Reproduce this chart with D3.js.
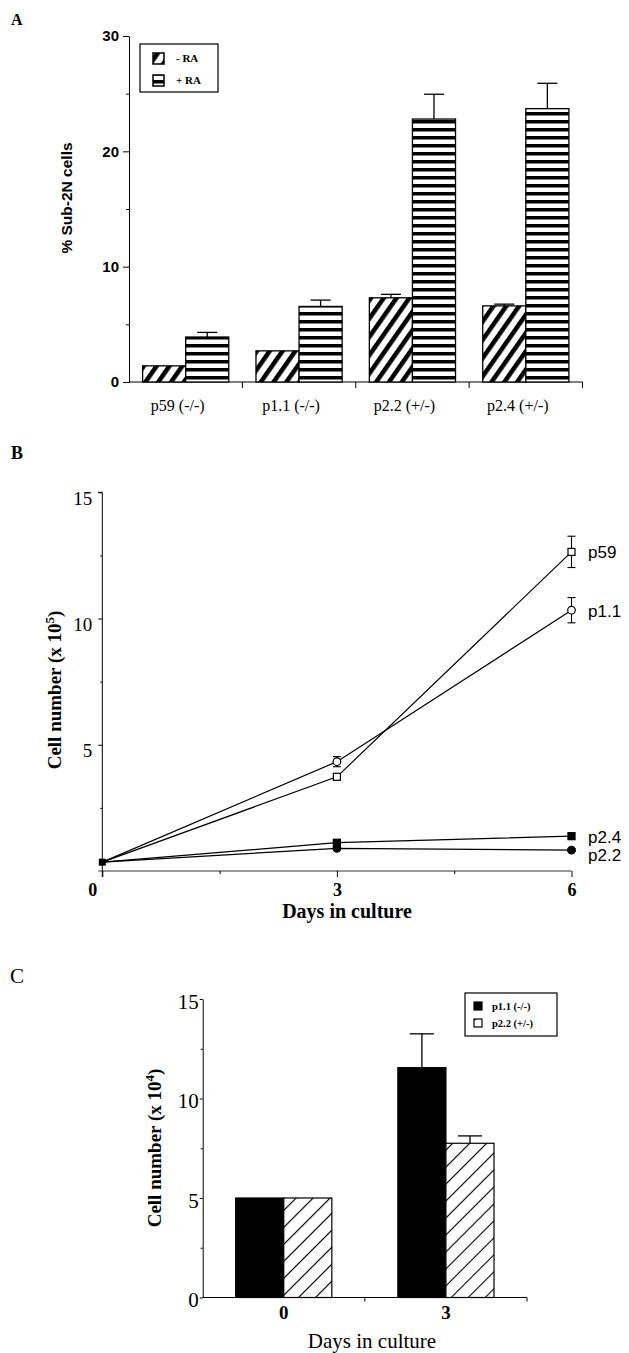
<!DOCTYPE html>
<html>
<head>
<meta charset="utf-8">
<script src="https://cdn.jsdelivr.net/npm/d3@7"></script>
<style>
  body { margin: 0; background: #fff; }
  svg { display: block; }
</style>
</head>
<body>
<svg id="fig" width="629" height="1353"></svg>
<script>
// ---- panel A : % sub-2N cells ----
const groupsA = ['p59 (-/-)', 'p1.1 (-/-)', 'p2.2 (+/-)', 'p2.4 (+/-)'];
const minusRA = [1.4, 2.7, 7.3, 6.6];
const minusRAErr = [0, 0, 0.3, 0.15];
const plusRA = [3.9, 6.55, 22.8, 23.7];
const plusRAErr = [0.4, 0.55, 2.15, 2.2];
const ticksA = [0, 10, 20, 30];
const minorA = [5, 15, 25];

// ---- panel B : growth curves ----
const daysB = [0, 3, 6];
const p59 = [0.35, 3.73, 12.64];
const p59Err = [0, 0.1, 0.62];
const p11 = [0.35, 4.33, 10.33];
const p11Err = [0, 0.2, 0.5];
const p24 = [0.35, 1.12, 1.38];
const p24Err = [0, 0.08, 0.1];
const p22 = [0.35, 0.9, 0.83];
const p22Err = [0, 0.05, 0.05];
const ticksB = [0, 5, 10, 15];
const minorB = [2.5, 7.5, 12.5];

// ---- panel C : cell number ----
const daysC = ['0', '3'];
const p11C = [5.0, 11.55];
const p11CErr = [0, 1.7];
const p22C = [5.0, 7.75];
const p22CErr = [0, 0.37];
const ticksC = [0, 5, 10, 15];
const minorC = [2.5, 7.5, 12.5];

const serif = '"Liberation Serif", "Times New Roman", serif';
const sans = '"Liberation Sans", Arial, Helvetica, sans-serif';

const svg = d3.select('#fig');
svg.append('rect').attr('width', 629).attr('height', 1353).attr('fill', '#fff');

const defs = svg.append('defs');

function stripes (id, size, bar, angle, bg) {
    const p = defs.append('pattern')
        .attr('id', id)
        .attr('patternUnits', 'userSpaceOnUse')
        .attr('width', size)
        .attr('height', size)
        .attr('patternTransform', `rotate(${angle})`);
    p.append('rect').attr('width', size).attr('height', size).attr('fill', bg);
    p.append('rect').attr('width', bar).attr('height', size).attr('fill', '#000');
}
stripes('diagA', 10.5, 4.5, 35, '#fff');      // thick "/" hatching
stripes('horizA', 8, 3.5, 90, '#fff');        // horizontal bands
stripes('diagC', 12, 1.1, 45, '#fff');        // thin "/" hatching

// ================= PANEL A =================
const gA = svg.append('g');
const xA = d3.scaleBand().domain(groupsA).range([129, 582.5]).paddingInner(0.24).paddingOuter(0.12);
const subA = d3.scaleBand().domain(['minus', 'plus']).range([0, xA.bandwidth()]);
const yA = d3.scaleLinear().domain([0, 30]).range([382, 36]);

gA.append('text').text('A').attr('x', 11).attr('y', 25)
    .attr('font-family', serif).attr('font-weight', 'bold').attr('font-size', 16);

// y axis
const axA = gA.append('g').attr('transform', 'translate(129,0)')
    .call(d3.axisLeft(yA).tickValues(ticksA).tickSize(6).tickSizeOuter(0).tickPadding(4));
axA.selectAll('text').attr('font-family', sans).attr('font-weight', 'bold').attr('font-size', 15).attr('fill', '#000');
gA.append('g').attr('transform', 'translate(129,0)')
    .call(d3.axisLeft(yA).tickValues(minorA).tickSize(3).tickFormat(''))
    .select('.domain').remove();

// x axis line + boundary ticks
gA.append('line').attr('x1', 129).attr('x2', 582.5).attr('y1', yA(0)).attr('y2', yA(0))
    .attr('stroke', '#000').attr('stroke-width', 1.2);
groupsA.forEach((g, i) => {
    const bx = xA(g) - xA.step() * 0.12 + xA.step();
    gA.append('line').attr('x1', bx).attr('x2', bx).attr('y1', yA(0)).attr('y2', yA(0) + 6)
        .attr('stroke', '#000');
    gA.append('text').text(g)
        .attr('x', xA(g) + xA.bandwidth() / 2 - 8).attr('y', 411)
        .attr('text-anchor', 'middle').attr('font-family', serif).attr('font-size', 16);
});

// bars
function barsA (vals, errs, key, fill) {
    vals.forEach((v, i) => {
        const x0 = xA(groupsA[i]) + subA(key);
        const w = subA.bandwidth();
        gA.append('rect').attr('x', x0).attr('y', yA(v)).attr('width', w).attr('height', yA(0) - yA(v))
            .attr('fill', `url(#${fill})`).attr('stroke', '#000').attr('stroke-width', 1.3);
        if (errs[i] > 0) {
            const cx = x0 + w / 2;
            gA.append('line').attr('x1', cx).attr('x2', cx).attr('y1', yA(v)).attr('y2', yA(v + errs[i]))
                .attr('stroke', '#000').attr('stroke-width', 1.3);
            gA.append('line').attr('x1', cx - 10).attr('x2', cx + 10).attr('y1', yA(v + errs[i])).attr('y2', yA(v + errs[i]))
                .attr('stroke', '#000').attr('stroke-width', 1.3);
        }
    });
}
barsA(minusRA, minusRAErr, 'minus', 'diagA');
barsA(plusRA, plusRAErr, 'plus', 'horizA');

gA.append('text').text('% Sub-2N cells')
    .attr('transform', 'translate(72,198) rotate(-90)')
    .attr('text-anchor', 'middle').attr('font-family', sans).attr('font-weight', 'bold').attr('font-size', 15.5);

// legend A
gA.append('rect').attr('x', 140).attr('y', 44).attr('width', 78).attr('height', 48)
    .attr('fill', '#fff').attr('stroke', '#000').attr('stroke-width', 1.2);
[['- RA', 'diagA', 53], ['+ RA', 'horizA', 75]].forEach(([t, f, y]) => {
    gA.append('rect').attr('x', 153).attr('y', y).attr('width', 11).attr('height', 11)
        .attr('fill', `url(#${f})`).attr('stroke', '#000').attr('stroke-width', 1.5);
    gA.append('text').text(t).attr('x', 176).attr('y', y + 8.5)
        .attr('font-family', serif).attr('font-weight', 'bold').attr('font-size', 11);
});

// ================= PANEL B =================
const gB = svg.append('g');
const xB = d3.scaleLinear().domain([0, 6]).range([102.3, 571.5]);
const yB = d3.scaleLinear().domain([0, 15]).range([871, 492.3]);

gB.append('text').text('B').attr('x', 11).attr('y', 459)
    .attr('font-family', serif).attr('font-weight', 'bold').attr('font-size', 18);

const axB = gB.append('g').attr('transform', `translate(${xB(0)},0)`)
    .call(d3.axisLeft(yB).tickValues(ticksB.filter(d => d > 0)).tickFormat(d3.format('d'))
        .tickSize(4).tickSizeOuter(0).tickPadding(6));
axB.select('.domain').attr('d', `M0,${yB(15)}H-4M0,${yB(15)}V${yB(0) + 6}`);
axB.selectAll('text').attr('font-family', serif).attr('font-size', 19).attr('dy', '0.62em').attr('fill', '#000');
gB.append('g').attr('transform', `translate(${xB(0)},0)`)
    .call(d3.axisLeft(yB).tickValues(minorB).tickSize(2).tickFormat(''))
    .select('.domain').remove();

const axBx = gB.append('g').attr('transform', `translate(0,${yB(0)})`)
    .call(d3.axisBottom(xB).tickValues(daysB).tickFormat(d3.format('d'))
        .tickSize(6).tickSizeOuter(0).tickPadding(6));
axBx.select('.domain').attr('d', `M${xB(0) - 4},0H${xB(6)}`).attr('stroke', '#333');
axBx.selectAll('text').attr('font-family', serif).attr('font-weight', 'bold').attr('font-size', 18).attr('fill', '#000')
    .attr('dx', d => d === 0 ? -10 : 0);
gB.append('g').attr('transform', `translate(0,${yB(0)})`)
    .call(d3.axisBottom(xB).tickValues([1.5, 4.5]).tickSize(3).tickFormat(''))
    .select('.domain').remove();

const line = d3.line().x((d, i) => xB(daysB[i])).y(d => yB(d));
const seriesB = [
    { name: 'p59', vals: p59, err: p59Err, shape: 'square', fill: '#fff', labelY: 558 },
    { name: 'p1.1', vals: p11, err: p11Err, shape: 'circle', fill: '#fff', labelY: 617 },
    { name: 'p2.4', vals: p24, err: p24Err, shape: 'square', fill: '#000', labelY: 843 },
    { name: 'p2.2', vals: p22, err: p22Err, shape: 'circle', fill: '#000', labelY: 861 }
];
seriesB.forEach(s => {
    gB.append('path').attr('d', line(s.vals)).attr('fill', 'none').attr('stroke', '#000').attr('stroke-width', 1.2);
});
seriesB.forEach(s => {
    s.vals.forEach((v, i) => {
        const cx = xB(daysB[i]);
        if (s.err[i] > 0) {
            const y1 = yB(v - s.err[i]), y2 = yB(v + s.err[i]);
            gB.append('line').attr('x1', cx).attr('x2', cx).attr('y1', y1).attr('y2', y2).attr('stroke', '#000').attr('stroke-width', 1.1);
            [y1, y2].forEach(y => gB.append('line').attr('x1', cx - 4).attr('x2', cx + 4).attr('y1', y).attr('y2', y)
                .attr('stroke', '#000').attr('stroke-width', 1.1));
        }
        if (i === 0) return;
        if (s.shape === 'square') {
            gB.append('rect').attr('x', cx - 3.5).attr('y', yB(v) - 3.5).attr('width', 7).attr('height', 7)
                .attr('fill', s.fill).attr('stroke', '#000').attr('stroke-width', 1.2);
        } else {
            gB.append('circle').attr('cx', cx).attr('cy', yB(v)).attr('r', 3.8)
                .attr('fill', s.fill).attr('stroke', '#000').attr('stroke-width', 1.2);
        }
    });
    gB.append('text').text(s.name).attr('x', 588).attr('y', s.labelY)
        .attr('font-family', sans).attr('font-size', 17);
});
// shared start point
gB.append('rect').attr('x', xB(0) - 3.5).attr('y', yB(p59[0]) - 3.5).attr('width', 7).attr('height', 7).attr('fill', '#000');

gB.append('text').text('Days in culture').attr('x', 347).attr('y', 918)
    .attr('text-anchor', 'middle').attr('font-family', serif).attr('font-weight', 'bold').attr('font-size', 20);
const ylB = gB.append('text').attr('transform', 'translate(61,690) rotate(-90)')
    .attr('text-anchor', 'middle').attr('font-family', serif).attr('font-weight', 'bold').attr('font-size', 19);
ylB.append('tspan').text('Cell number (x 10');
ylB.append('tspan').text('5').attr('font-size', 13).attr('dy', -7);
ylB.append('tspan').text(')').attr('dy', 7);

// ================= PANEL C =================
const gC = svg.append('g');
const xC = d3.scaleBand().domain(daysC).range([202.7, 527]).paddingInner(0.407).paddingOuter(0.2035);
const subC = d3.scaleBand().domain(['p11', 'p22']).range([0, xC.bandwidth()]);
const yC = d3.scaleLinear().domain([0, 15]).range([1297.5, 999]);

gC.append('text').text('C').attr('x', 10).attr('y', 983)
    .attr('font-family', serif).attr('font-size', 21);

const axC = gC.append('g').attr('transform', 'translate(202.7,0)')
    .call(d3.axisLeft(yC).tickValues(ticksC).tickSize(3).tickSizeOuter(0).tickPadding(1));
axC.selectAll('text').attr('font-family', serif).attr('font-size', 21).attr('dy', '0.45em').attr('fill', '#000');
gC.append('g').attr('transform', 'translate(202.7,0)')
    .call(d3.axisLeft(yC).tickValues(minorC).tickSize(2).tickFormat(''))
    .select('.domain').remove();

gC.append('line').attr('x1', 202.7).attr('x2', 527).attr('y1', yC(0)).attr('y2', yC(0))
    .attr('stroke', '#000').attr('stroke-width', 1.2);
daysC.forEach(d => {
    const bx = xC(d) + xC.bandwidth() + xC.step() * 0.2035;
    gC.append('line').attr('x1', bx).attr('x2', bx).attr('y1', yC(0)).attr('y2', yC(0) + 4).attr('stroke', '#000');
    gC.append('text').text(d).attr('x', xC(d) + xC.bandwidth() / 2).attr('y', 1319)
        .attr('text-anchor', 'middle').attr('font-family', serif).attr('font-weight', 'bold').attr('font-size', 19);
});

function barsC (vals, errs, key, fill) {
    vals.forEach((v, i) => {
        const x0 = xC(daysC[i]) + subC(key);
        const w = subC.bandwidth();
        gC.append('rect').attr('x', x0).attr('y', yC(v)).attr('width', w).attr('height', yC(0) - yC(v))
            .attr('fill', fill).attr('stroke', '#000').attr('stroke-width', 1.2);
        if (errs[i] > 0) {
            const cx = x0 + w / 2;
            gC.append('line').attr('x1', cx).attr('x2', cx).attr('y1', yC(v)).attr('y2', yC(v + errs[i]))
                .attr('stroke', '#000').attr('stroke-width', 1.3);
            gC.append('line').attr('x1', cx - 12).attr('x2', cx + 12).attr('y1', yC(v + errs[i])).attr('y2', yC(v + errs[i]))
                .attr('stroke', '#000').attr('stroke-width', 1.3);
        }
    });
}
barsC(p11C, p11CErr, 'p11', '#000');
barsC(p22C, p22CErr, 'p22', 'url(#diagC)');

gC.append('text').text('Days in culture').attr('x', 372).attr('y', 1348)
    .attr('text-anchor', 'middle').attr('font-family', serif).attr('font-size', 21);
const ylC = gC.append('text').attr('transform', 'translate(161,1148) rotate(-90)')
    .attr('text-anchor', 'middle').attr('font-family', serif).attr('font-weight', 'bold').attr('font-size', 19);
ylC.append('tspan').text('Cell number (x 10');
ylC.append('tspan').text('4').attr('font-size', 13).attr('dy', -7);
ylC.append('tspan').text(')').attr('dy', 7);

// legend C
gC.append('rect').attr('x', 465).attr('y', 993).attr('width', 92).attr('height', 43)
    .attr('fill', '#fff').attr('stroke', '#000').attr('stroke-width', 1.2);
[['p1.1 (-/-)', '#000', 1002], ['p2.2 (+/-)', 'url(#diagC)', 1019]].forEach(([t, f, y]) => {
    gC.append('rect').attr('x', 474).attr('y', y).attr('width', 8).attr('height', 8)
        .attr('fill', f).attr('stroke', '#000').attr('stroke-width', 1.2);
    gC.append('text').text(t).attr('x', 492).attr('y', y + 8)
        .attr('font-family', serif).attr('font-weight', 'bold').attr('font-size', 10.5);
});
</script>
</body>
</html>
